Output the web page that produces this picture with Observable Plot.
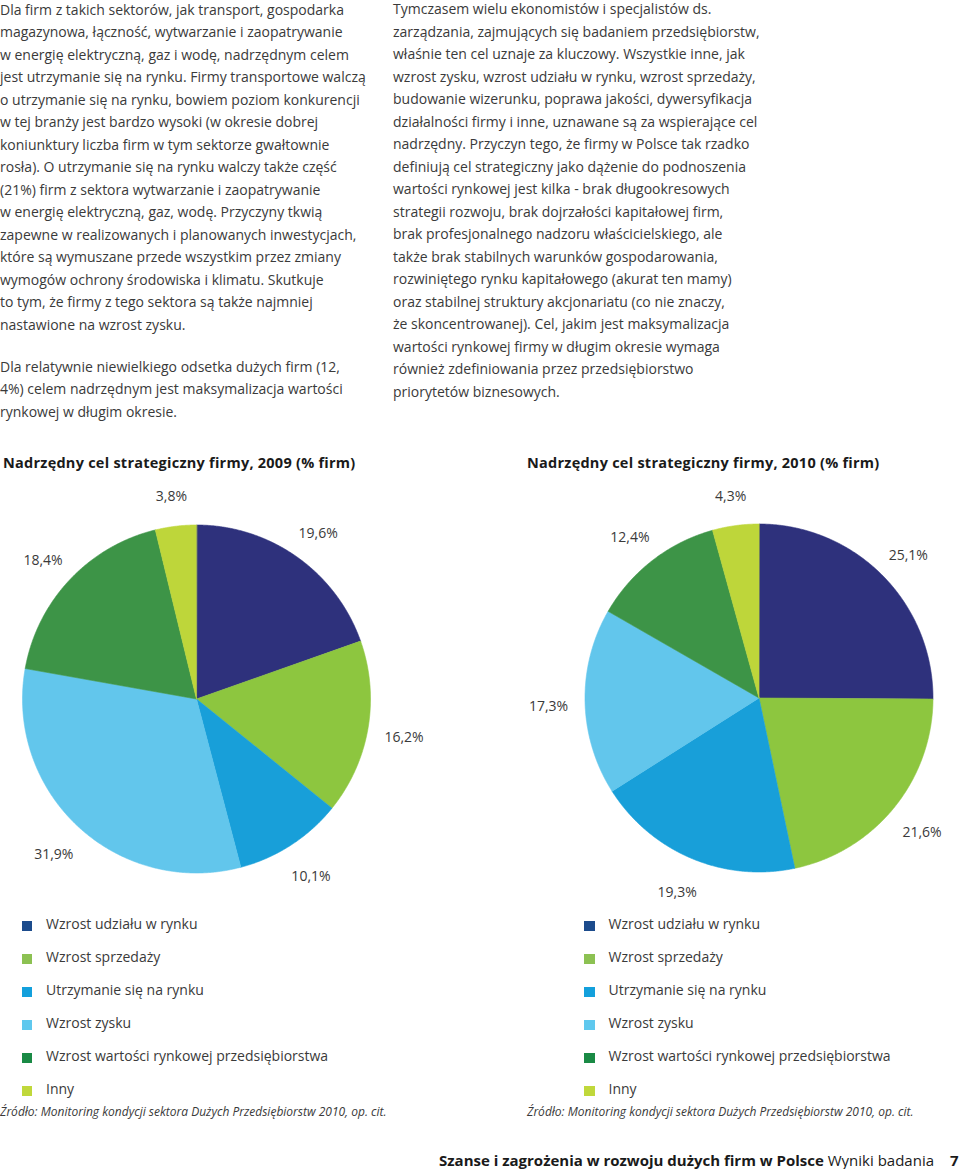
<!DOCTYPE html>
<html lang="pl">
<head>
<meta charset="utf-8">
<script src="https://cdn.jsdelivr.net/npm/d3@7"></script>
<script src="https://cdn.jsdelivr.net/npm/@observablehq/plot@0.6"></script>
<style>
  html, body { margin: 0; padding: 0; background: #fff; }
  #page { position: relative; width: 960px; height: 1169px; overflow: hidden; font-family: "Open Sans", sans-serif; color: #3a3a3a; }
  .col { position: absolute; font-size: 14px; line-height: 22.5px; white-space: nowrap; }
  .title { position: absolute; font-size: 14.5px; font-weight: bold; line-height: 20px; color: #1a1a1a; white-space: nowrap; letter-spacing: 0.25px; }
  .legend { position: absolute; font-size: 14px; }
  .legend .row { position: relative; height: 33px; line-height: 33px; white-space: nowrap; }
  .legend .sw { position: absolute; width: 10.5px; height: 10.5px; top: 14px; }
  .caption { position: absolute; font-size: 12px; font-style: italic; line-height: 16px; white-space: nowrap; color: #3a3a3a; }
  .footer { position: absolute; top: 1150px; font-size: 15px; line-height: 20px; white-space: nowrap; color: #1a1a1a; }
  .pie { position: absolute; }
</style>
</head>
<body>
<div id="page"></div>
<script>
// ---- Data ----
const categories = [
  "Wzrost udziału w rynku",
  "Wzrost sprzedaży",
  "Utrzymanie się na rynku",
  "Wzrost zysku",
  "Wzrost wartości rynkowej przedsiębiorstwa",
  "Inny"
];
const values2009 = [19.6, 16.2, 10.1, 31.9, 18.4, 3.8];
const values2010 = [25.1, 21.6, 19.3, 17.3, 12.4, 4.3];
const pieColors = ["#2e317c", "#8dc63f", "#189fd9", "#62c6ec", "#3d9447", "#bed63a"];
const legendColors = ["#1c4b8c", "#8cc152", "#13a0dc", "#5fc8ee", "#1a8a45", "#c0d83b"];
const title2009 = "Nadrzędny cel strategiczny firmy, 2009 (% firm)";
const title2010 = "Nadrzędny cel strategiczny firmy, 2010 (% firm)";
const sourceText = "Źródło: Monitoring kondycji sektora Dużych Przedsiębiorstw 2010, op. cit.";
const leftParagraphs = [
  [
    "Dla firm z takich sektorów, jak transport, gospodarka",
    "magazynowa, łączność, wytwarzanie i zaopatrywanie",
    "w energię elektryczną, gaz i wodę, nadrzędnym celem",
    "jest utrzymanie się na rynku. Firmy transportowe walczą",
    "o utrzymanie się na rynku, bowiem poziom konkurencji",
    "w tej branży jest bardzo wysoki (w okresie dobrej",
    "koniunktury liczba firm w tym sektorze gwałtownie",
    "rosła). O utrzymanie się na rynku walczy także część",
    "(21%) firm z sektora wytwarzanie i zaopatrywanie",
    "w energię elektryczną, gaz, wodę. Przyczyny tkwią",
    "zapewne w realizowanych i planowanych inwestycjach,",
    "które są wymuszane przede wszystkim przez zmiany",
    "wymogów ochrony środowiska i klimatu. Skutkuje",
    "to tym, że firmy z tego sektora są także najmniej",
    "nastawione na wzrost zysku."
  ],
  [
    "Dla relatywnie niewielkiego odsetka dużych firm (12,",
    "4%) celem nadrzędnym jest maksymalizacja wartości",
    "rynkowej w długim okresie."
  ]
];
const rightLines = [
  "Tymczasem wielu ekonomistów i specjalistów ds.",
  "zarządzania, zajmujących się badaniem przedsiębiorstw,",
  "właśnie ten cel uznaje za kluczowy. Wszystkie inne, jak",
  "wzrost zysku, wzrost udziału w rynku, wzrost sprzedaży,",
  "budowanie wizerunku, poprawa jakości, dywersyfikacja",
  "działalności firmy i inne, uznawane są za wspierające cel",
  "nadrzędny. Przyczyn tego, że firmy w Polsce tak rzadko",
  "definiują cel strategiczny jako dążenie do podnoszenia",
  "wartości rynkowej jest kilka - brak długookresowych",
  "strategii rozwoju, brak dojrzałości kapitałowej firm,",
  "brak profesjonalnego nadzoru właścicielskiego, ale",
  "także brak stabilnych warunków gospodarowania,",
  "rozwiniętego rynku kapitałowego (akurat ten mamy)",
  "oraz stabilnej struktury akcjonariatu (co nie znaczy,",
  "że skoncentrowanej). Cel, jakim jest maksymalizacja",
  "wartości rynkowej firmy w długim okresie wymaga",
  "również zdefiniowania przez przedsiębiorstwo",
  "priorytetów biznesowych."
];
const footerBold = "Szanse i zagrożenia w rozwoju dużych firm w Polsce";
const footerRegular = "Wyniki badania";
const pageNumber = "7";

// ---- Layout helpers ----
const page = document.getElementById("page");
function el(tag, cls, style, html) {
  const e = document.createElement(tag);
  if (cls) e.className = cls;
  if (style) Object.assign(e.style, style);
  if (html != null) e.innerHTML = html;
  return e;
}

// Text columns
const left = el("div", "col", {left: "0px", top: "-1.2px"});
leftParagraphs.forEach((p, i) => {
  const d = el("div", null, i > 0 ? {marginTop: "19.5px"} : null);
  p.forEach(line => d.appendChild(el("div", null, null, line)));
  left.appendChild(d);
});
page.appendChild(left);

const right = el("div", "col", {left: "393px", top: "-1.6px"});
rightLines.forEach(line => right.appendChild(el("div", null, null, line)));
page.appendChild(right);

// Titles
page.appendChild(el("div", "title", {left: "3px", top: "452.5px"}, title2009));
page.appendChild(el("div", "title", {left: "527px", top: "452.5px"}, title2010));

// ---- Pies ----
const R = 174;
const pieW = 480, pieH = 440;
const fmt = v => v.toFixed(1).replace(".", ",") + "%";

function pieChart(values, cx, cy) {
  const rows = categories.map((c, i) => ({cat: c, value: values[i]}));
  const arcs = d3.pie().sort(null).value(d => d.value)(rows);
  const pts = [];
  const labels = [];
  arcs.forEach(a => {
    pts.push({cat: a.data.cat, x: 0, y: 0});
    const n = Math.max(2, Math.ceil((a.endAngle - a.startAngle) / 0.005));
    for (let k = 0; k <= n; k++) {
      const t = a.startAngle + (a.endAngle - a.startAngle) * k / n;
      pts.push({cat: a.data.cat, x: Math.sin(t), y: Math.cos(t)});
    }
    const m = (a.startAngle + a.endAngle) / 2;
    labels.push({x: 1.21 * Math.sin(m), y: 1.19 * Math.cos(m) - 0.02, text: fmt(a.data.value)});
  });
  return Plot.plot({
    width: pieW,
    height: pieH,
    margin: 0,
    style: {fontFamily: "Open Sans, sans-serif", fontSize: "14px", color: "#3a3a3a", background: "transparent", overflow: "visible"},
    x: {domain: [-cx / R, (pieW - cx) / R], axis: null},
    y: {domain: [(cy - pieH) / R, cy / R], axis: null},
    color: {domain: categories, range: pieColors},
    marks: [
      Plot.line(pts, {x: "x", y: "y", z: "cat", fill: "cat", stroke: "cat", strokeWidth: 0.6, curve: "linear-closed"}),
      Plot.text(labels, {x: "x", y: "y", text: "text", fontSize: 14, fill: "#3a3a3a"})
    ]
  });
}

const pieTop = 478;
const p1 = el("div", "pie", {left: "0px", top: pieTop + "px"});
p1.appendChild(pieChart(values2009, 196, 698.5 - pieTop));
page.appendChild(p1);
const p2 = el("div", "pie", {left: "480px", top: pieTop + "px"});
p2.appendChild(pieChart(values2010, 758.5 - 480, 697.5 - pieTop));
page.appendChild(p2);

// ---- Legends ----
function legend(x, y) {
  const L = el("div", "legend", {left: x + "px", top: y + "px"});
  categories.forEach((c, i) => {
    const r = el("div", "row");
    r.appendChild(el("div", "sw", {left: "0px", background: legendColors[i]}));
    r.appendChild(el("span", null, {position: "absolute", left: "24.5px"}, c));
    L.appendChild(r);
  });
  page.appendChild(L);
}
legend(21.5, 906.5);
legend(584, 906.5);

// Captions
page.appendChild(el("div", "caption", {left: "0px", top: "1104px"}, sourceText));
page.appendChild(el("div", "caption", {left: "527px", top: "1104px"}, sourceText));

// Footer
page.appendChild(el("div", "footer", {left: "439px"}, "<b>" + footerBold + "</b> " + footerRegular));
page.appendChild(el("div", "footer", {left: "950px", fontWeight: "bold"}, pageNumber));
</script>
</body>
</html>
